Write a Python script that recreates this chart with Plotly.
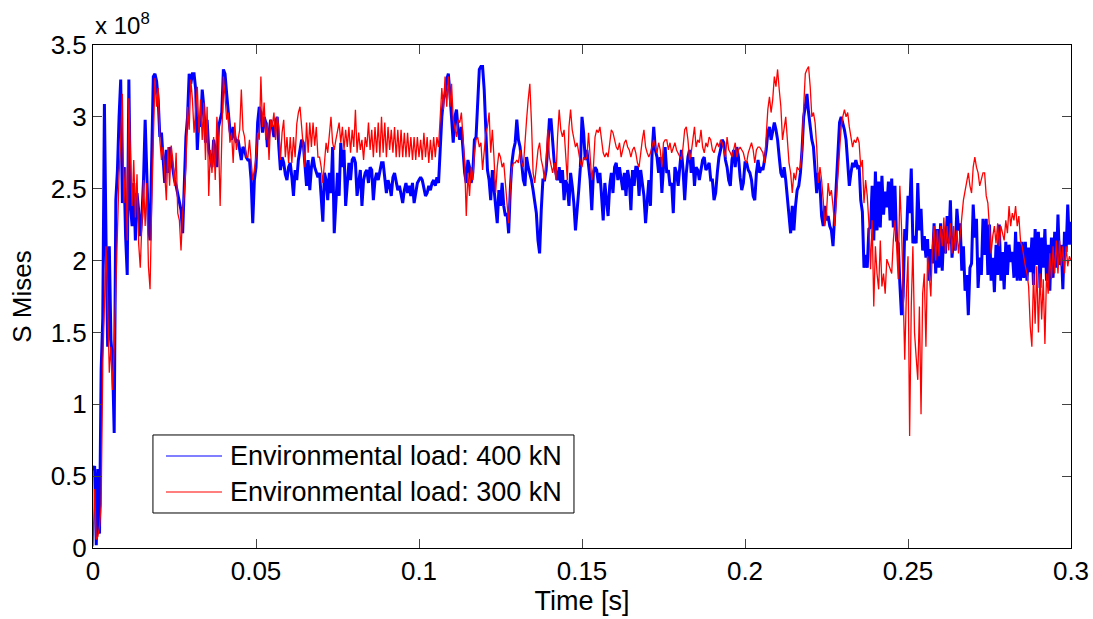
import numpy as np
import plotly.graph_objects as go

# Sampling interval of the stored signals [s]
DT = 0.0005

# Von Mises stress at the monitored point, in units of 1e8 Pa
mises_400kN = [
    0.54, 0.57, 0.02, 0.55, 0.10, 1.24, 1.60, 3.09, 2.14, 1.40,
    2.10, 1.45, 1.30, 0.80, 2.42, 2.63, 3.00, 3.26, 2.40, 2.65,
    2.17, 1.90, 3.26, 2.38, 2.24, 2.54, 2.14, 2.47, 2.35, 2.17,
    2.31, 2.56, 2.98, 2.65, 2.24, 2.14, 2.61, 3.28, 3.30, 3.25,
    3.12, 2.86, 2.89, 2.68, 2.54, 2.77, 2.61, 2.79, 2.70, 2.65,
    2.56, 2.52, 2.47, 2.40, 2.35, 2.19, 2.47, 2.86, 3.00, 3.30,
    3.23, 3.30, 3.30, 3.19, 2.77, 3.00, 2.93, 3.19, 3.07, 2.82,
    2.98, 2.77, 2.72, 2.65, 2.84, 2.77, 2.65, 2.93, 2.98, 3.03,
    3.33, 3.30, 3.16, 3.00, 2.91, 2.84, 2.93, 2.86, 2.82, 2.84,
    2.77, 2.70, 2.79, 2.77, 2.72, 2.70, 2.70, 2.56, 2.26, 2.56,
    2.65, 2.96, 3.07, 3.03, 2.89, 3.00, 2.96, 2.79, 2.89, 2.98,
    2.93, 2.86, 2.96, 3.00, 2.79, 2.63, 2.72, 2.68, 2.60, 2.56,
    2.65, 2.68, 2.58, 2.45, 2.63, 2.56, 2.70, 2.77, 2.84, 2.82,
    2.65, 2.52, 2.70, 2.49, 2.65, 2.72, 2.65, 2.61, 2.58, 2.61,
    2.45, 2.27, 2.61, 2.56, 2.42, 2.61, 2.47, 2.79, 2.19, 2.38,
    2.61, 2.45, 2.82, 2.65, 2.77, 2.38, 2.56, 2.68, 2.56, 2.70,
    2.72, 2.68, 2.45, 2.54, 2.63, 2.38, 2.56, 2.61, 2.63, 2.54,
    2.65, 2.63, 2.42, 2.56, 2.61, 2.56, 2.61, 2.68, 2.68, 2.56,
    2.47, 2.56, 2.52, 2.45, 2.58, 2.61, 2.54, 2.49, 2.52, 2.47,
    2.40, 2.49, 2.54, 2.47, 2.52, 2.45, 2.54, 2.40, 2.47, 2.54,
    2.56, 2.58, 2.56, 2.49, 2.45, 2.47, 2.52, 2.49, 2.54, 2.56,
    2.52, 2.58, 2.54, 2.77, 3.00, 3.12, 3.16, 3.26, 3.30, 3.16,
    3.00, 2.82, 3.00, 3.05, 2.91, 2.84, 2.93, 2.77, 2.61, 2.54,
    2.70, 2.65, 2.54, 2.61, 2.84, 2.86, 3.07, 3.33, 3.35, 3.35,
    3.19, 2.91, 2.63, 2.56, 2.42, 2.63, 2.47, 2.38, 2.26, 2.49,
    2.38, 2.54, 2.38, 2.31, 2.33, 2.19, 2.49, 2.68, 2.77, 2.82,
    2.98, 2.84, 2.79, 2.65, 2.56, 2.52, 2.72, 2.65, 2.61, 2.56,
    2.49, 2.40, 2.33, 2.14, 2.05, 2.35, 2.56, 2.56, 2.63, 2.79,
    2.98, 2.98, 2.84, 2.68, 2.61, 2.56, 2.65, 2.54, 2.63, 2.42,
    2.56, 2.52, 2.38, 2.61, 2.52, 2.40, 2.21, 2.33, 2.49, 2.65,
    3.00, 2.89, 2.70, 2.77, 2.68, 2.56, 2.35, 2.61, 2.65, 2.63,
    2.54, 2.61, 2.45, 2.28, 2.54, 2.42, 2.31, 2.52, 2.61, 2.47,
    2.65, 2.68, 2.56, 2.65, 2.56, 2.49, 2.61, 2.45, 2.63, 2.56,
    2.35, 2.63, 2.52, 2.65, 2.65, 2.45, 2.63, 2.54, 2.45, 2.26,
    2.40, 2.56, 2.38, 2.75, 2.93, 2.77, 2.72, 2.61, 2.72, 2.47,
    2.65, 2.79, 2.61, 2.63, 2.52, 2.54, 2.33, 2.65, 2.61, 2.52,
    2.65, 2.77, 2.63, 2.42, 2.61, 2.72, 2.77, 2.61, 2.72, 2.52,
    2.65, 2.63, 2.56, 2.65, 2.70, 2.72, 2.63, 2.65, 2.68, 2.56,
    2.56, 2.42, 2.47, 2.61, 2.72, 2.77, 2.84, 2.82, 2.70, 2.65,
    2.56, 2.52, 2.70, 2.77, 2.65, 2.79, 2.72, 2.58, 2.49, 2.54,
    2.68, 2.68, 2.63, 2.61, 2.56, 2.45, 2.42, 2.61, 2.70, 2.61,
    2.65, 2.63, 2.70, 2.77, 2.89, 2.93, 2.84, 2.91, 2.96, 2.91,
    2.84, 2.72, 2.61, 2.58, 2.65, 2.56, 2.45, 2.33, 2.19, 2.38,
    2.21, 2.38, 2.49, 2.52, 2.61, 2.77, 3.00, 3.07, 3.16, 3.03,
    2.91, 2.84, 2.79, 2.61, 2.47, 2.61, 2.52, 2.31, 2.24, 2.38,
    2.28, 2.31, 2.24, 2.21, 2.10, 2.31, 2.54, 2.72, 2.96, 3.00,
    2.96, 2.91, 2.84, 2.70, 2.52, 2.61, 2.68, 2.65, 2.70, 2.65,
    2.66, 2.42, 2.34, 1.95, 2.04, 1.95, 2.22, 2.23, 2.52, 2.14,
    2.62, 2.21, 2.55, 2.23, 2.59, 2.32, 2.48, 2.37, 2.55, 2.28,
    2.57, 2.23, 2.52, 2.14, 2.12, 1.84, 1.62, 1.75, 2.22, 2.14,
    2.45, 2.33, 2.64, 2.12, 2.17, 2.12, 2.54, 2.21, 2.36, 2.07,
    2.17, 2.02, 2.15, 1.86, 2.08, 1.98, 2.26, 1.91, 2.22, 1.95,
    2.26, 1.93, 2.22, 2.05, 2.31, 2.12, 2.42, 2.02, 2.17, 2.07,
    2.36, 2.21, 2.26, 1.93, 2.10, 1.79, 1.90, 1.62, 1.95, 1.98,
    2.39, 2.16, 2.29, 1.81, 2.02, 1.90, 2.29, 2.04, 2.29, 1.90,
    2.25, 1.86, 2.02, 1.78, 2.11, 1.90, 2.25, 1.86, 2.06, 1.80,
    2.13, 1.90, 2.11, 1.99, 2.06, 1.88, 2.20, 1.86, 2.13, 1.86,
    2.13, 1.88, 2.13, 1.86, 2.09, 1.92, 2.16, 1.83, 2.22, 1.97,
    2.20, 1.81, 2.16, 1.95, 2.22, 1.86, 2.11, 1.79, 2.16, 1.88,
    2.20, 1.95, 2.32, 1.97, 2.11, 1.80, 2.20, 2.06, 2.39, 2.11,
    2.27,
]

mises_300kN = [
    0.01, 0.41, 0.06, 0.08, 0.15, 0.30, 1.28, 1.80, 2.10, 1.70,
    1.22, 1.40, 1.10, 1.40, 1.85, 2.30, 2.60, 2.85, 3.16, 2.40,
    2.65, 2.14, 3.13, 2.72, 2.38, 2.70, 2.30, 2.60, 2.12, 1.95,
    2.24, 2.56, 2.24, 2.54, 1.96, 1.80, 2.38, 2.84, 3.27, 3.07,
    3.20, 2.84, 2.70, 2.79, 2.61, 2.42, 2.79, 2.52, 2.80, 2.70,
    2.52, 2.75, 2.33, 2.28, 2.07, 2.33, 2.47, 2.65, 3.07, 2.91,
    3.26, 3.12, 2.89, 3.07, 3.21, 2.89, 3.12, 2.84, 3.10, 2.70,
    3.07, 2.45, 2.77, 2.61, 2.86, 2.56, 3.00, 2.84, 2.38, 2.84,
    3.28, 3.14, 2.98, 3.03, 2.82, 2.89, 2.68, 2.96, 2.77, 2.84,
    2.91, 3.19, 2.91, 2.86, 2.72, 2.72, 2.84, 2.70, 2.56, 2.63,
    2.72, 2.89, 2.84, 3.28, 2.93, 3.10, 2.84, 2.96, 2.70, 2.98,
    2.93, 3.03, 2.84, 3.00, 2.93, 2.70, 2.89, 2.98, 2.72, 2.86,
    2.68, 2.86, 2.68, 2.86, 2.72, 2.95, 3.03, 3.07, 2.91, 2.75,
    2.65, 2.96, 2.75, 2.96, 2.79, 2.96, 2.80, 2.93, 2.72, 2.72,
    2.65, 2.54, 2.72, 2.82, 2.75, 2.86, 3.00, 2.82, 2.77, 2.84,
    2.89, 2.96, 2.82, 2.93, 2.77, 2.91, 2.79, 2.93, 2.75, 2.91,
    2.79, 3.05, 2.75, 2.89, 2.77, 2.84, 2.70, 2.86, 2.79, 2.96,
    2.77, 2.91, 2.72, 2.93, 2.75, 2.96, 2.72, 3.00, 2.75, 2.96,
    2.72, 2.93, 2.77, 2.91, 2.75, 2.93, 2.72, 2.91, 2.72, 2.91,
    2.72, 2.89, 2.72, 2.89, 2.72, 2.86, 2.70, 2.86, 2.70, 2.86,
    2.72, 2.84, 2.70, 2.89, 2.72, 2.86, 2.68, 2.84, 2.70, 2.86,
    2.72, 2.86, 2.79, 2.98, 3.20, 3.05, 3.28, 3.07, 3.28, 3.07,
    3.23, 2.98, 2.93, 2.86, 2.98, 2.96, 3.03, 2.84, 2.68, 2.31,
    2.61, 2.45, 2.65, 2.56, 2.75, 2.84, 2.86, 2.79, 2.82, 2.63,
    2.77, 2.89, 2.93, 3.03, 2.75, 2.91, 2.72, 2.47, 2.65, 2.75,
    2.72, 2.65, 2.68, 2.54, 2.45, 2.26, 2.49, 2.65, 2.68, 2.68,
    2.70, 2.68, 2.77, 2.68, 2.65, 2.84, 2.98, 3.12, 3.23, 2.96,
    2.61, 2.54, 2.68, 2.77, 2.82, 2.70, 2.65, 2.56, 2.70, 2.91,
    2.72, 2.65, 2.61, 2.68, 2.56, 2.86, 3.05, 2.91, 2.86, 2.91,
    2.75, 2.56, 2.93, 3.05, 2.91, 2.86, 2.79, 2.82, 2.75, 2.68,
    2.65, 2.72, 2.70, 2.72, 2.89, 2.70, 2.56, 2.65, 2.86, 2.91,
    2.89, 2.93, 2.84, 2.75, 2.72, 2.75, 2.72, 2.84, 2.91, 2.89,
    2.84, 2.79, 2.77, 2.82, 2.72, 2.77, 2.82, 2.84, 2.79, 2.77,
    2.72, 2.77, 2.79, 2.75, 2.68, 2.65, 2.77, 2.84, 2.91, 2.79,
    2.75, 2.72, 2.75, 2.79, 2.84, 2.79, 2.75, 2.82, 2.77, 2.65,
    2.82, 2.84, 2.84, 2.77, 2.82, 2.75, 2.79, 2.82, 2.77, 2.75,
    2.72, 2.70, 2.79, 2.91, 2.93, 2.84, 2.70, 2.75, 2.84, 2.93,
    2.79, 2.84, 2.82, 2.91, 2.79, 2.75, 2.82, 2.79, 2.86, 2.84,
    2.77, 2.75, 2.79, 2.82, 2.79, 2.84, 2.82, 2.77, 2.72, 2.86,
    2.77, 2.75, 2.72, 2.77, 2.82, 2.72, 2.77, 2.79, 2.77, 2.75,
    2.70, 2.68, 2.75, 2.79, 2.82, 2.77, 2.68, 2.77, 2.79, 2.79,
    2.77, 2.75, 2.68, 2.86, 3.05, 3.14, 3.03, 3.12, 3.28, 3.21,
    3.33, 3.19, 3.07, 2.84, 2.93, 3.00, 2.84, 2.68, 2.61, 2.47,
    2.61, 2.56, 2.65, 2.63, 2.65, 2.77, 3.07, 3.30, 3.33, 3.35,
    3.21, 3.00, 3.03, 2.96, 2.79, 2.54, 2.65, 2.56, 2.42, 2.24,
    2.33, 2.54, 2.45, 2.49, 2.38, 2.24, 2.42, 2.61, 2.79, 2.93,
    3.00, 3.05, 3.00, 3.03, 2.93, 2.86, 2.79, 2.84, 2.82, 2.86,
    2.82, 2.65, 2.70, 2.40, 2.56, 2.45, 2.26, 1.94, 2.28, 1.68,
    2.10, 1.91, 1.80, 2.14, 1.82, 1.91, 1.77, 2.01, 1.98, 1.94,
    1.91, 2.14, 2.28, 2.10, 1.87, 2.52, 2.24, 1.80, 1.31, 1.77,
    2.03, 0.78, 1.68, 2.10, 1.50, 1.33, 1.17, 1.68, 0.93, 1.77,
    1.91, 1.40, 2.03, 1.91, 1.75, 2.10, 2.24, 2.00, 2.21, 2.03,
    2.24, 2.10, 2.30, 2.05, 2.24, 2.07, 2.26, 2.05, 2.24, 2.07,
    2.21, 2.05, 2.21, 2.30, 2.42, 2.49, 2.56, 2.61, 2.52, 2.47,
    2.65, 2.72, 2.65, 2.61, 2.52, 2.56, 2.61, 2.61, 2.45, 2.40,
    2.24, 2.05, 2.17, 2.24, 2.12, 2.26, 2.10, 2.24, 2.19, 2.14,
    2.28, 2.19, 2.38, 2.24, 2.33, 2.28, 2.38, 2.24, 2.31, 2.14,
    2.10, 2.01, 1.96, 1.91, 1.82, 1.54, 1.40, 1.91, 1.56, 1.96,
    1.50, 1.91, 1.59, 1.87, 1.42, 1.91, 1.77, 2.05, 1.87, 2.10,
    1.91, 2.14, 1.91, 2.14, 1.96, 2.10, 1.91, 2.10, 1.96, 2.03,
    2.00,
]

series_names = ["Environmental load: 400 kN", "Environmental load: 300 kN"]
series_colors = ["#0000ff", "#ff0000"]
series_widths = [3.0, 1.3]

x_tick_vals = [0, 0.05, 0.1, 0.15, 0.2, 0.25, 0.3]
x_tick_text = ["0", "0.05", "0.1", "0.15", "0.2", "0.25", "0.3"]
y_tick_vals = [0, 0.5, 1, 1.5, 2, 2.5, 3, 3.5]
y_tick_text = ["0", "0.5", "1", "1.5", "2", "2.5", "3", "3.5"]

FONT = "Liberation Sans, Arial, Helvetica, sans-serif"

fig = go.Figure()
for values, name, color, width in zip(
    [mises_400kN, mises_300kN], series_names, series_colors, series_widths
):
    t = np.arange(len(values)) * DT
    fig.add_trace(
        go.Scatter(
            x=t,
            y=values,
            mode="lines",
            name=name,
            showlegend=False,
            line=dict(color=color, width=width),
        )
    )

axis_common = dict(
    showline=True,
    linecolor="black",
    linewidth=1,
    mirror="ticks",
    ticks="inside",
    ticklen=9,
    tickcolor="#444444",
    tickwidth=1,
    showgrid=False,
    zeroline=False,
    automargin=False,
    tickfont=dict(family=FONT, size=26, color="black"),
)

fig.update_layout(
    width=1093,
    height=619,
    margin=dict(l=93, r=22, t=45, b=71),
    paper_bgcolor="white",
    plot_bgcolor="white",
    font=dict(family=FONT, size=26, color="black"),
    xaxis=dict(
        range=[0, 0.3],
        tickvals=x_tick_vals,
        ticktext=x_tick_text,
        title=dict(text="Time [s]", font=dict(family=FONT, size=27), standoff=1),
        **axis_common,
    ),
    yaxis=dict(
        range=[0, 3.5],
        tickvals=y_tick_vals,
        ticktext=y_tick_text,
        title=dict(text="S Mises", font=dict(family=FONT, size=26), standoff=11),
        **axis_common,
    ),
    showlegend=False,
)

# Legend box in the lower left of the axes (paper coordinates)
LEG_X0, LEG_X1 = 0.0613, 0.4918
LEG_Y0, LEG_Y1 = 0.0696, 0.2247
LEG_LINE_X0, LEG_LINE_X1 = 0.0746, 0.1319
LEG_TEXT_X = 0.1380
LEG_ROW_Y = [0.1829, 0.1113]

fig.add_shape(
    type="rect", xref="paper", yref="paper",
    x0=LEG_X0, x1=LEG_X1, y0=LEG_Y0, y1=LEG_Y1,
    line=dict(color="black", width=1), fillcolor="white", layer="above",
)
for name, color, row_y in zip(series_names, series_colors, LEG_ROW_Y):
    fig.add_shape(
        type="line", xref="paper", yref="paper",
        x0=LEG_LINE_X0, x1=LEG_LINE_X1, y0=row_y, y1=row_y,
        line=dict(color=color, width=1.2), layer="above",
    )
    fig.add_annotation(
        xref="paper", yref="paper", x=LEG_TEXT_X, y=row_y,
        xanchor="left", yanchor="middle", text=name, showarrow=False,
        font=dict(family=FONT, size=27, color="black"),
    )

# Power-of-ten multiplier for the stress axis
fig.add_annotation(
    xref="paper",
    yref="paper",
    x=0.0,
    y=1.0,
    xanchor="left",
    yanchor="bottom",
    yshift=4,
    text="x 10<sup>8</sup>",
    showarrow=False,
    font=dict(family=FONT, size=24, color="black"),
)

fig.write_html("out.html")
